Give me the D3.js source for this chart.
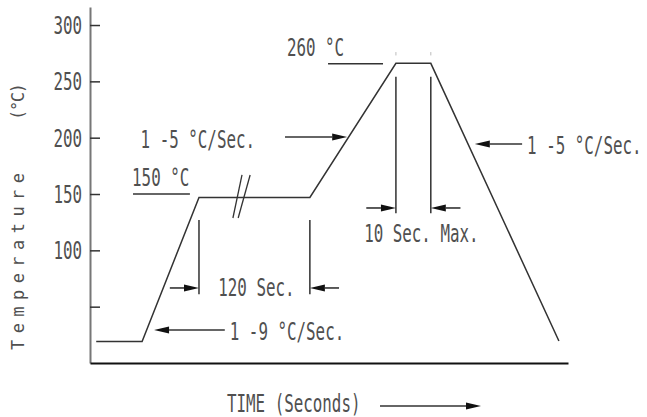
<!DOCTYPE html>
<html>
<head>
<meta charset="utf-8">
<script src="https://cdn.jsdelivr.net/npm/d3@7"></script>
<style>
  html, body { margin: 0; padding: 0; background: #fff; }
  svg { display: block; }
  text { font-family: "DejaVu Sans Mono", monospace; fill: #505050; }
</style>
</head>
<body>
<svg width="647" height="417"></svg>
<script>
// reflow profile, schematic time units (0..100) and temperature in °C
const tempTicks = [50, 100, 150, 200, 250, 300];
const profileTime = [1.3, 10.9, 22.8, 46, 64, 71.3, 98.1];
const profileTemp = [19, 19, 147, 147, 266, 266, 19.5];

// dimension markers: "120 Sec." across the soak, "10 Sec. Max." across the peak
const dimLabels = ["120 Sec.", "10 Sec. Max."];
const dimStart = [22.8, 64];
const dimEnd = [46, 71.3];
const dimTopTemp = [127, 254];
const dimBottomTemp = [61, 133];
const dimArrowTemp = [66.6, 137.6];
const dimArrowLen = [6.1, 6.2];

// slope call-outs
const slopeLabels = ["1 -9 °C/Sec.", "1 -5 °C/Sec.", "1 -5 °C/Sec."];
const slopeTipTime = [13.4, 53.8, 80.5];
const slopeTipTemp = [29.3, 200.6, 194.4];
const slopeTailTime = [28.2, 40.8, 90.4];
const slopeTextSide = ["right", "left", "right"];

// temperature level call-outs
const levelLabels = ["150 °C", "260 °C"];
const levelTemp = [150, 266];
const levelLineFrom = [9.0, 49.8];
const levelLineTo = [20.9, 61.3];
const levelTextTime = [8.8, 41.2];

const SX = 0.66;   // narrow CAD lettering
const FONT = 24;

const svg = d3.select("svg");

const x = d3.scaleLinear().domain([0, 100]).range([90, 568]);
const y = d3.scaleLinear().domain([0, 316]).range([363, 7]);

function label(g, px, py, txt, anchor) {
  return g.append("text")
    .attr("transform", `translate(${px},${py}) scale(${SX},1)`)
    .attr("text-anchor", anchor || "start")
    .attr("font-size", FONT)
    .text(txt);
}

function arrow(g, x1, y1, x2, y2) {
  // line from (x1,y1) with a filled head at (x2,y2)
  const a = Math.atan2(y2 - y1, x2 - x1);
  const L = 15, W = 3.5;
  const bx = x2 - L * Math.cos(a), by = y2 - L * Math.sin(a);
  g.append("line")
    .attr("x1", x1).attr("y1", y1).attr("x2", bx).attr("y2", by)
    .attr("stroke", "#333").attr("stroke-width", 1.6);
  g.append("path")
    .attr("d", `M${x2},${y2}L${bx - W * Math.sin(a)},${by + W * Math.cos(a)}L${bx + W * Math.sin(a)},${by - W * Math.cos(a)}Z`)
    .attr("fill", "#111");
}

// y axis: ticks drawn inside, labels outside
const yAxis = svg.append("g")
  .attr("transform", `translate(${x(0)},0)`)
  .call(d3.axisLeft(y)
    .tickValues(tempTicks)
    .tickSizeInner(-10)
    .tickSizeOuter(0)
    .tickPadding(8)
    .tickFormat(d => d >= 100 ? d : ""));
yAxis.select(".domain").attr("stroke", "#777").attr("stroke-width", 2);
yAxis.selectAll(".tick line").attr("stroke", "#333").attr("stroke-width", 1.5);
yAxis.selectAll(".tick text")
  .attr("x", null).attr("dy", null)
  .attr("font-family", null).attr("font-size", FONT)
  .attr("fill", "#505050")
  .attr("transform", `translate(-8,8.5) scale(${SX},1)`);

// x axis: bare baseline
const xAxis = svg.append("g")
  .attr("transform", `translate(0,${y(0)})`)
  .call(d3.axisBottom(x).tickValues([]).tickSizeOuter(0));
xAxis.select(".domain").attr("stroke", "#111").attr("stroke-width", 2);

// profile
const pts = profileTime.map((t, i) => [t, profileTemp[i]]);
svg.append("path")
  .datum(pts)
  .attr("d", d3.line().x(d => x(d[0])).y(d => y(d[1])))
  .attr("fill", "none")
  .attr("stroke", "#333")
  .attr("stroke-width", 1.5);

// break marks on the soak
const brk = svg.append("g").attr("stroke", "#333").attr("stroke-width", 1.3);
[[29.9, 31.8], [31.0, 33.5]].forEach(p => {
  brk.append("line")
    .attr("x1", x(p[0])).attr("y1", y(128.7))
    .attr("x2", x(p[1])).attr("y2", y(166.9));
});

// small marks above the peak corners
[64, 71.3].forEach(t => {
  svg.append("line")
    .attr("x1", x(t)).attr("x2", x(t))
    .attr("y1", y(276)).attr("y2", y(273))
    .attr("stroke", "#bbb").attr("stroke-width", 1);
});

// dimension markers
const dims = svg.append("g");
dimLabels.forEach((lab, i) => {
  [dimStart[i], dimEnd[i]].forEach(t => {
    dims.append("line")
      .attr("x1", x(t)).attr("x2", x(t))
      .attr("y1", y(dimTopTemp[i])).attr("y2", y(dimBottomTemp[i]))
      .attr("stroke", "#222").attr("stroke-width", 1.4);
  });
  const ay = y(dimArrowTemp[i]);
  arrow(dims, x(dimStart[i] - dimArrowLen[i]), ay, x(dimStart[i]), ay);
  arrow(dims, x(dimEnd[i] + dimArrowLen[i]), ay, x(dimEnd[i]), ay);
});
label(dims, (x(dimStart[0]) + x(dimEnd[0])) / 2 + 2, y(dimArrowTemp[0]) + 8, dimLabels[0], "middle");
label(dims, (x(dimStart[1]) + x(dimEnd[1])) / 2 + 8, y(dimArrowTemp[1]) + 34, dimLabels[1], "middle");

// slope call-outs
const slopes = svg.append("g");
slopeLabels.forEach((lab, i) => {
  const ty = y(slopeTipTemp[i]);
  arrow(slopes, x(slopeTailTime[i]), ty, x(slopeTipTime[i]), ty);
  if (slopeTextSide[i] === "right") {
    label(slopes, x(slopeTailTime[i]) + 5, ty + 10, lab, "start");
  } else {
    label(slopes, x(slopeTailTime[i]) - 30, ty + 11, lab, "end");
  }
});

// level call-outs
const levels = svg.append("g");
levelLabels.forEach((lab, i) => {
  const ly = y(levelTemp[i]) + (i === 0 ? 0 : 0.5);
  levels.append("line")
    .attr("x1", x(levelLineFrom[i])).attr("x2", x(levelLineTo[i]))
    .attr("y1", ly).attr("y2", ly)
    .attr("stroke", "#333").attr("stroke-width", 1.5);
  label(levels, x(levelTextTime[i]), ly - 8, lab, "start");
});

// axis titles
svg.append("text")
  .attr("transform", "translate(24,350) rotate(-90)")
  .attr("font-size", 17)
  .attr("textLength", 177)
  .attr("lengthAdjust", "spacing")
  .text("Temperature");
svg.append("text")
  .attr("transform", "translate(24,120) rotate(-90)")
  .attr("font-size", 17)
  .attr("textLength", 37)
  .attr("lengthAdjust", "spacing")
  .text("(°C)");

const xt = svg.append("g");
label(xt, 227, 412, "TIME (Seconds)", "start");
arrow(xt, 380, 406, 481, 406);
</script>
</body>
</html>
